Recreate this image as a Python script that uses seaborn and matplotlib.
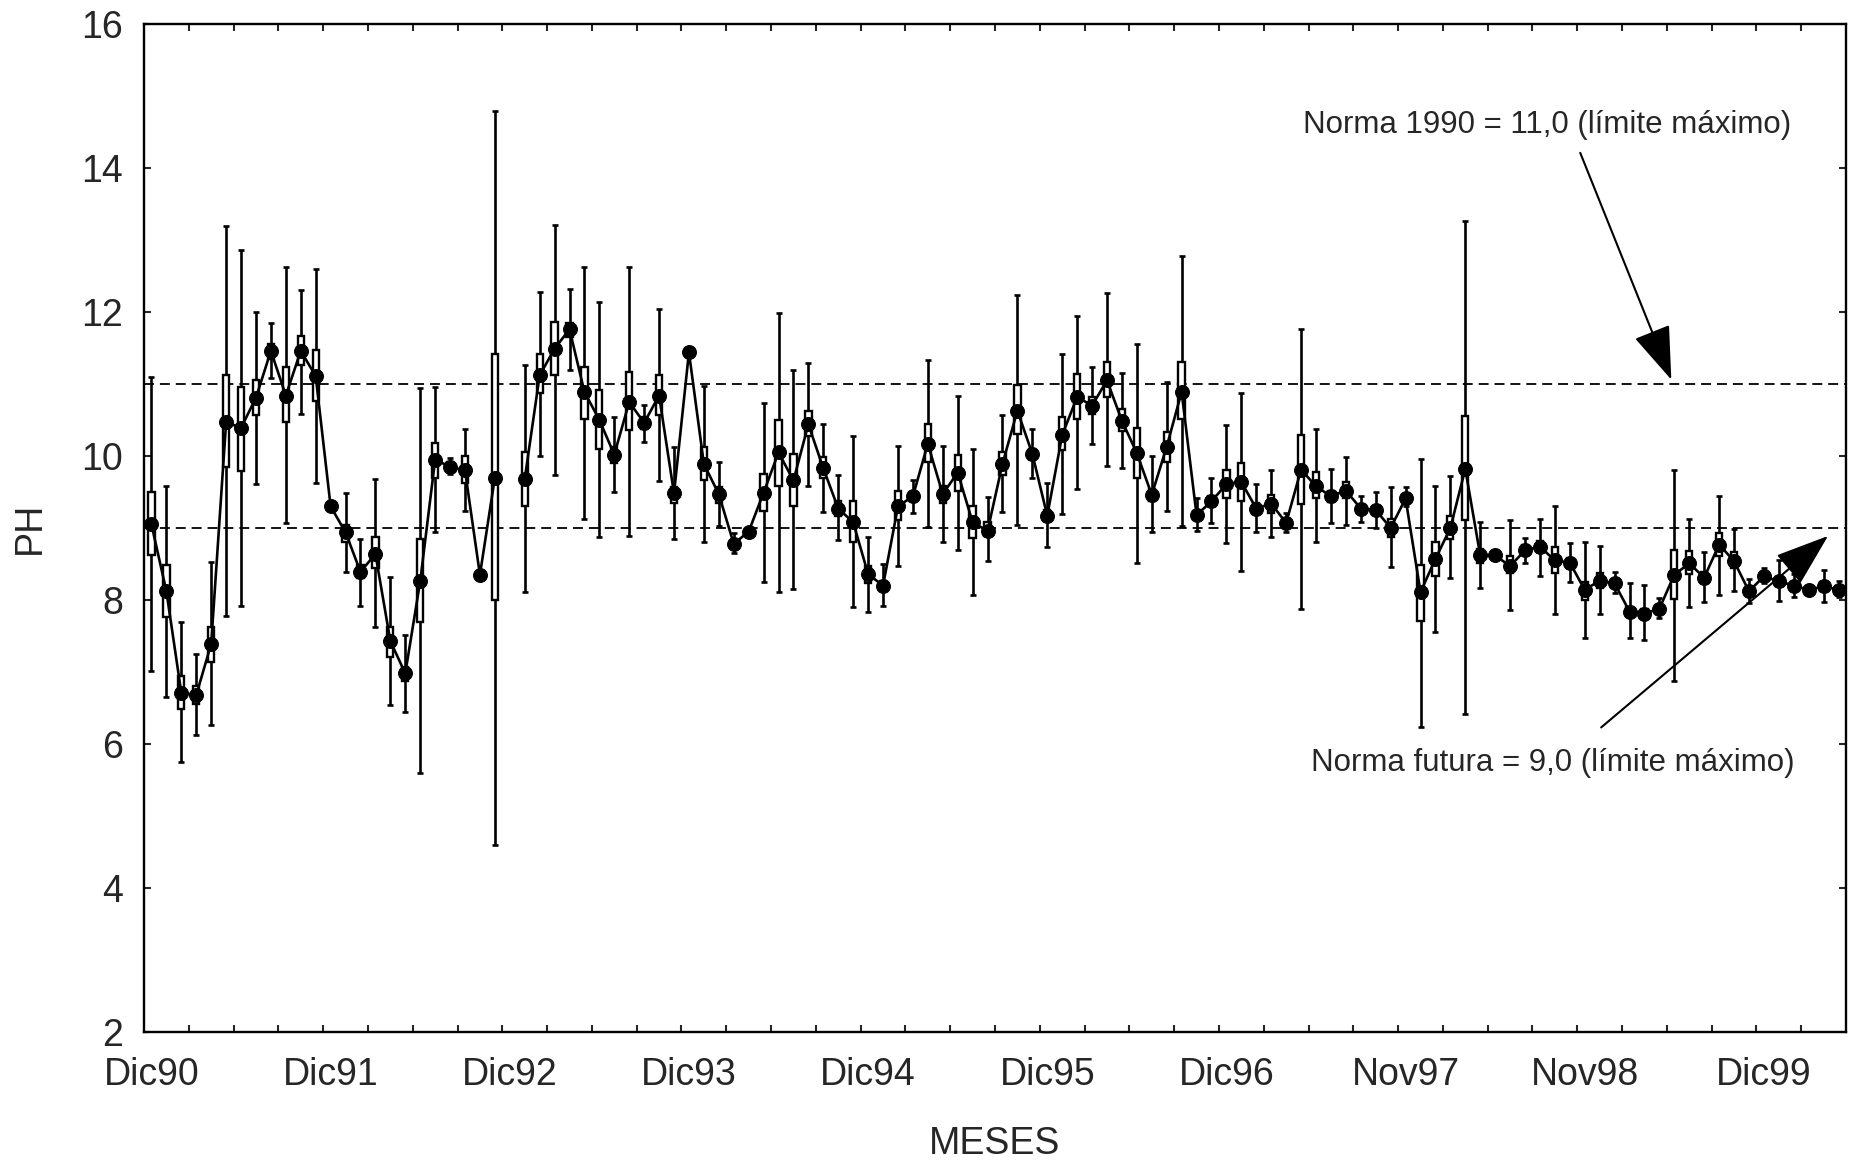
import numpy as np
import pandas as pd
import matplotlib
matplotlib.use("Agg")
import matplotlib.pyplot as plt
import seaborn as sns

nan = np.nan

# meses (indice 0 = Dic90); el mes 24 no tiene dato
mes = list(range(114))

media = [9.05, 8.12, 6.71, 6.68, 7.39, 10.47, 10.39, 10.81, 11.46, 10.84,
         11.46, 11.11, 9.30, 8.94, 8.39, 8.64, 7.43, 6.98, 8.26, 9.95,
         9.85, 9.80, 8.35, 9.70, nan, 9.68, 11.12, 11.49, 11.76, 10.89,
         10.50, 10.02, 10.75, 10.46, 10.84, 9.48, 11.44, 9.89, 9.47, 8.78,
         8.95, 9.49, 10.05, 9.66, 10.44, 9.83, 9.27, 9.08, 8.36, 8.20,
         9.30, 9.44, 10.17, 9.47, 9.77, 9.08, 8.96, 9.89, 10.63, 10.03,
         9.17, 10.29, 10.82, 10.70, 11.05, 10.49, 10.04, 9.46, 10.13, 10.89,
         9.18, 9.37, 9.61, 9.64, 9.27, 9.34, 9.07, 9.81, 9.58, 9.44,
         9.52, 9.27, 9.25, 9.00, 9.41, 8.11, 8.57, 9.00, 9.82, 8.62,
         8.62, 8.47, 8.69, 8.74, 8.55, 8.52, 8.14, 8.27, 8.23, 7.84,
         7.81, 7.88, 8.35, 8.51, 8.31, 8.77, 8.54, 8.12, 8.33, 8.26,
         8.20, 8.14, 8.19, 8.14]

# caja: media +/- error estandar
caja_inf = [8.62, 7.77, 6.49, 6.55, 7.14, 9.85, 9.79, 10.57, 11.35, 10.47,
            11.26, 10.77, nan, 8.81, 8.30, 8.45, 7.21, 6.87, 7.70, 9.70,
            9.80, 9.62, nan, 8.00, nan, 9.31, 10.87, 11.12, 11.65, 10.52,
            10.10, 9.90, 10.36, 10.38, 10.57, 9.35, 11.40, 9.67, 9.35, 8.72,
            nan, 9.23, 9.59, 9.31, 10.28, 9.69, 9.16, 8.81, 8.24, 8.14,
            9.11, 9.38, 9.91, 9.35, 9.52, 8.86, 8.89, 9.74, 10.30, 9.96,
            9.10, 10.08, 10.52, 10.58, 10.82, 10.35, 9.69, 9.38, 9.92, 10.51,
            9.12, 9.30, 9.41, 9.38, 9.19, 9.21, 9.02, 9.34, 9.41, 9.36,
            9.41, 9.22, 9.19, 8.88, 9.36, 7.71, 8.33, 8.85, 9.11, 8.52,
            nan, 8.38, 8.62, 8.66, 8.38, 8.45, 8.00, 8.17, 8.18, 7.78,
            7.75, 7.84, 8.01, 8.36, 8.23, 8.61, 8.44, 8.07, 8.29, 8.20,
            8.15, nan, 8.13, 8.10]

caja_sup = [9.50, 8.48, 6.95, 6.81, 7.63, 11.12, 10.96, 11.05, 11.55, 11.24,
            11.66, 11.47, nan, 9.04, 8.48, 8.88, 7.63, 7.07, 8.85, 10.18,
            9.92, 10.00, nan, 11.41, nan, 10.05, 11.41, 11.86, 11.85, 11.24,
            10.91, 10.12, 11.16, 10.54, 11.13, 9.57, 11.48, 10.12, 9.57, 8.84,
            nan, 9.75, 10.50, 10.03, 10.62, 9.98, 9.37, 9.37, 8.47, 8.26,
            9.51, 9.50, 10.45, 9.58, 10.02, 9.30, 9.08, 10.05, 10.98, 10.10,
            9.25, 10.54, 11.14, 10.82, 11.31, 10.65, 10.39, 9.54, 10.33, 11.30,
            9.24, 9.44, 9.81, 9.90, 9.35, 9.46, 9.12, 10.29, 9.78, 9.52,
            9.64, 9.32, 9.31, 9.13, 9.46, 8.49, 8.81, 9.17, 10.56, 8.71,
            nan, 8.61, 8.76, 8.82, 8.73, 8.59, 8.25, 8.38, 8.28, 7.90,
            7.87, 7.92, 8.69, 8.68, 8.39, 8.93, 8.66, 8.17, 8.37, 8.32,
            8.25, nan, 8.25, 8.18]

# bigotes: media +/- desviacion estandar
bigote_inf = [7.02, 6.65, 5.75, 6.12, 6.26, 7.78, 7.91, 9.61, 11.08, 9.07,
              10.59, 9.63, nan, 8.39, 7.92, 7.62, 6.54, 6.45, 5.60, 8.95,
              9.75, 9.23, nan, 4.60, nan, 8.11, 10.00, 9.74, 11.19, 9.13,
              8.87, 9.50, 8.89, 10.20, 9.65, 8.85, 11.37, 8.80, 9.03, 8.65,
              nan, 8.25, 8.11, 8.15, 9.59, 9.22, 8.84, 7.90, 7.83, 7.92,
              8.47, 9.21, 9.01, 8.81, 8.70, 8.07, 8.54, 9.22, 9.04, 9.69,
              8.74, 9.19, 9.54, 10.16, 9.86, 9.84, 8.52, 8.94, 9.23, 9.03,
              8.96, 9.07, 8.79, 8.40, 8.94, 8.87, 8.94, 7.87, 8.81, 9.07,
              9.04, 9.08, 9.00, 8.46, 9.30, 6.24, 7.56, 8.30, 6.41, 8.17,
              nan, 7.86, 8.52, 8.34, 7.80, 8.25, 7.47, 7.80, 8.10, 7.47,
              7.45, 7.75, 6.88, 7.90, 7.97, 8.07, 8.12, 7.96, 8.24, 7.98,
              8.04, nan, 7.97, 8.04]

bigote_sup = [11.10, 9.59, 7.70, 7.25, 8.53, 13.19, 12.86, 12.00, 11.85, 12.62,
              12.31, 12.60, nan, 9.49, 8.85, 9.68, 8.32, 7.51, 10.94, 10.96,
              9.97, 10.37, nan, 14.79, nan, 11.27, 12.28, 13.21, 12.32, 12.63,
              12.14, 10.54, 12.63, 10.71, 12.04, 10.12, 11.52, 10.97, 9.92, 8.93,
              nan, 10.73, 11.98, 11.20, 11.29, 10.45, 9.73, 10.28, 8.87, 8.50,
              10.14, 9.66, 11.34, 10.14, 10.83, 10.10, 9.43, 10.57, 12.24, 10.38,
              9.63, 11.42, 11.95, 11.24, 12.26, 11.15, 11.56, 10.00, 11.03, 12.78,
              9.42, 9.69, 10.43, 10.88, 9.61, 9.81, 9.21, 11.76, 10.37, 9.82,
              9.99, 9.45, 9.50, 9.57, 9.57, 9.96, 9.59, 9.72, 13.26, 9.09,
              nan, 9.11, 8.86, 9.12, 9.30, 8.79, 8.81, 8.75, 8.39, 8.24,
              8.21, 8.03, 9.81, 9.13, 8.67, 9.45, 8.99, 8.29, 8.44, 8.55,
              8.36, nan, 8.41, 8.26]

etiquetas = ["Dic90", "Dic91", "Dic92", "Dic93", "Dic94", "Dic95", "Dic96",
             "Nov97", "Nov98", "Dic99"]
pos_etiquetas = [0, 12, 24, 36, 48, 60, 72, 84, 96, 108]

norma_1990 = 11.0
norma_futura = 9.0

df = pd.DataFrame({"mes": mes, "media": media,
                   "caja_inf": caja_inf, "caja_sup": caja_sup,
                   "big_inf": bigote_inf, "big_sup": bigote_sup})
# tramo: la linea se corta donde falta un mes
df["tramo"] = df["media"].isna().cumsum()
df = df.dropna(subset=["media"])

sns.set_style("ticks")
plt.rcParams["font.family"] = ["Liberation Sans", "DejaVu Sans"]

fig = plt.figure(figsize=(18.52, 11.6), dpi=100)
ax = fig.add_axes([144 / 1852, 1 - 1032 / 1160, (1846 - 144) / 1852, (1032 - 24) / 1160])

# lineas de norma
for v in (norma_1990, norma_futura):
    ax.axhline(v, color="black", lw=1.3, ls=(0, (5.5, 3.3)), zorder=1)

# bigotes
yerr = [df["media"] - df["big_inf"], df["big_sup"] - df["media"]]
ax.errorbar(df["mes"], df["media"], yerr=yerr, fmt="none", ecolor="black",
            elinewidth=1.9, capsize=2.5, capthick=1.9, zorder=2)

# cajas
ax.bar(df["mes"], df["caja_sup"] - df["caja_inf"], bottom=df["caja_inf"],
       width=0.42, color="white", edgecolor="black", linewidth=1.7, zorder=3)

# medias
sns.lineplot(data=df, x="mes", y="media", units="tramo", estimator=None,
             color="black", lw=1.9, marker="o", markersize=10,
             markeredgecolor="black", ax=ax, zorder=4)

ax.set_xlim(-0.5, 113.5)
ax.set_ylim(2, 16)
ax.set_yticks(range(2, 17, 2))
ax.set_xticks(pos_etiquetas)
ax.set_xticklabels(etiquetas)
ax.set_xticks(np.arange(2.5, 113, 3), minor=True)
ax.tick_params(axis="x", which="major", length=0, labelsize=27, pad=18)
ax.tick_params(axis="x", which="minor", direction="in", length=5, width=1.5,
               top=True, bottom=True)
ax.tick_params(axis="y", direction="in", length=5, width=1.5, labelsize=27,
               left=True, right=True, pad=15)
for s in ax.spines.values():
    s.set_visible(True)
    s.set_linewidth(1.7)
    s.set_color("black")

ax.set_xlabel("MESES", fontsize=27, labelpad=24)
ax.set_ylabel("PH", fontsize=27, labelpad=24)

# anotaciones
flecha = dict(arrowstyle="-|>,head_length=1.7,head_width=0.6", color="black",
              lw=1.5, shrinkA=0, shrinkB=0, mutation_scale=20)
ax.text(93.5, 14.6, "Norma 1990 = 11,0 (límite máximo)", fontsize=22.5,
        ha="center", va="center")
ax.annotate("", xy=(101.8, 11.06), xytext=(95.7, 14.21), arrowprops=flecha)
ax.text(93.85, 5.74, "Norma futura = 9,0 (límite máximo)", fontsize=22.5,
        ha="center", va="center")
ax.annotate("", xy=(112.3, 8.89), xytext=(97.1, 6.23), arrowprops=flecha)

fig.savefig("out.png", dpi=100)
